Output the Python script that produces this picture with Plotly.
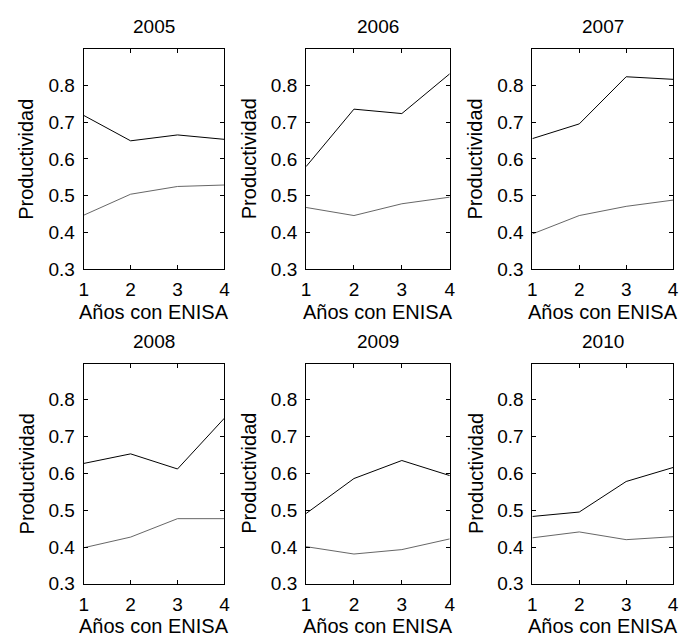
import plotly.graph_objects as go

years = ["2005", "2006", "2007", "2008", "2009", "2010"]
x_years = [1, 2, 3, 4]
upper_vals = [
    [0.718, 0.649, 0.665, 0.653],
    [0.579, 0.735, 0.723, 0.831],
    [0.655, 0.695, 0.823, 0.816],
    [0.627, 0.653, 0.612, 0.750],
    [0.491, 0.586, 0.635, 0.594],
    [0.483, 0.495, 0.578, 0.616],
]
lower_vals = [
    [0.447, 0.504, 0.525, 0.529],
    [0.468, 0.446, 0.478, 0.496],
    [0.396, 0.446, 0.471, 0.488],
    [0.398, 0.427, 0.477, 0.477],
    [0.401, 0.381, 0.393, 0.422],
    [0.425, 0.441, 0.420, 0.428],
]
y_ticks = [0.3, 0.4, 0.5, 0.6, 0.7, 0.8]
y_tick_text = ["0.3", "0.4", "0.5", "0.6", "0.7", "0.8"]
x_title = "Años con ENISA"
y_title = "Productividad"

W, H = 683, 643
col_px = [(80, 223), (306, 452), (536, 679)]
row_px = [(50, 274), (370, 594)]
FONT = "Liberation Sans, Arial, sans-serif"
FS_TICK = 19
FS_TITLE = 20

fig = go.Figure()
annotations = []
layout_axes = {}
for i, yr in enumerate(years):
    r, c = divmod(i, 3)
    n = i + 1
    xa = "x" if n == 1 else f"x{n}"
    ya = "y" if n == 1 else f"y{n}"
    x0, x1 = col_px[c]
    y0, y1 = row_px[r]
    xd = [x0 / W, x1 / W]
    yd = [1 - y1 / H, 1 - y0 / H]
    fig.add_trace(go.Scatter(x=x_years, y=upper_vals[i], mode="lines",
                             line=dict(color="black", width=1.0),
                             xaxis=xa, yaxis=ya, showlegend=False))
    fig.add_trace(go.Scatter(x=x_years, y=lower_vals[i], mode="lines",
                             line=dict(color="#555555", width=0.9),
                             xaxis=xa, yaxis=ya, showlegend=False))
    common = dict(showline=True, linecolor="black", linewidth=1, mirror="ticks",
                  ticks="inside", ticklen=4, tickwidth=1, tickcolor="black",
                  showgrid=False, zeroline=False,
                  tickfont=dict(family=FONT, size=FS_TICK, color="black"))
    xkey = "xaxis" if n == 1 else f"xaxis{n}"
    ykey = "yaxis" if n == 1 else f"yaxis{n}"
    layout_axes[xkey] = dict(domain=xd, anchor=ya, range=[1, 4],
                             tickvals=x_years, ticktext=[str(v) for v in x_years],
                             ticklabelstandoff=3, **common)
    layout_axes[ykey] = dict(domain=yd, anchor=xa, range=[0.3, 0.898],
                             tickvals=y_ticks, ticktext=y_tick_text,
                             ticklabelstandoff=4, **common)
    cx = (x0 + x1) / 2
    annotations.append(dict(text=yr, x=cx / W, y=1 - (y0 - 23) / H, xref="paper", yref="paper",
                            showarrow=False, xanchor="center", yanchor="middle",
                            font=dict(family=FONT, size=FS_TICK, color="black")))
    annotations.append(dict(text=x_title, x=cx / W, y=1 - (y1 + 43) / H, xref="paper", yref="paper",
                            showarrow=False, xanchor="center", yanchor="middle",
                            font=dict(family=FONT, size=FS_TITLE, color="black")))
    annotations.append(dict(text=y_title, x=(x0 - 58) / W, y=1 - ((y0 + y1) / 2) / H,
                            xref="paper", yref="paper", textangle=-90,
                            showarrow=False, xanchor="center", yanchor="middle",
                            font=dict(family=FONT, size=FS_TITLE, color="black")))

fig.update_layout(width=W, height=H, margin=dict(l=0, r=0, t=0, b=0),
                  paper_bgcolor="white", plot_bgcolor="white",
                  annotations=annotations, **layout_axes)
fig.write_html("out.html")
